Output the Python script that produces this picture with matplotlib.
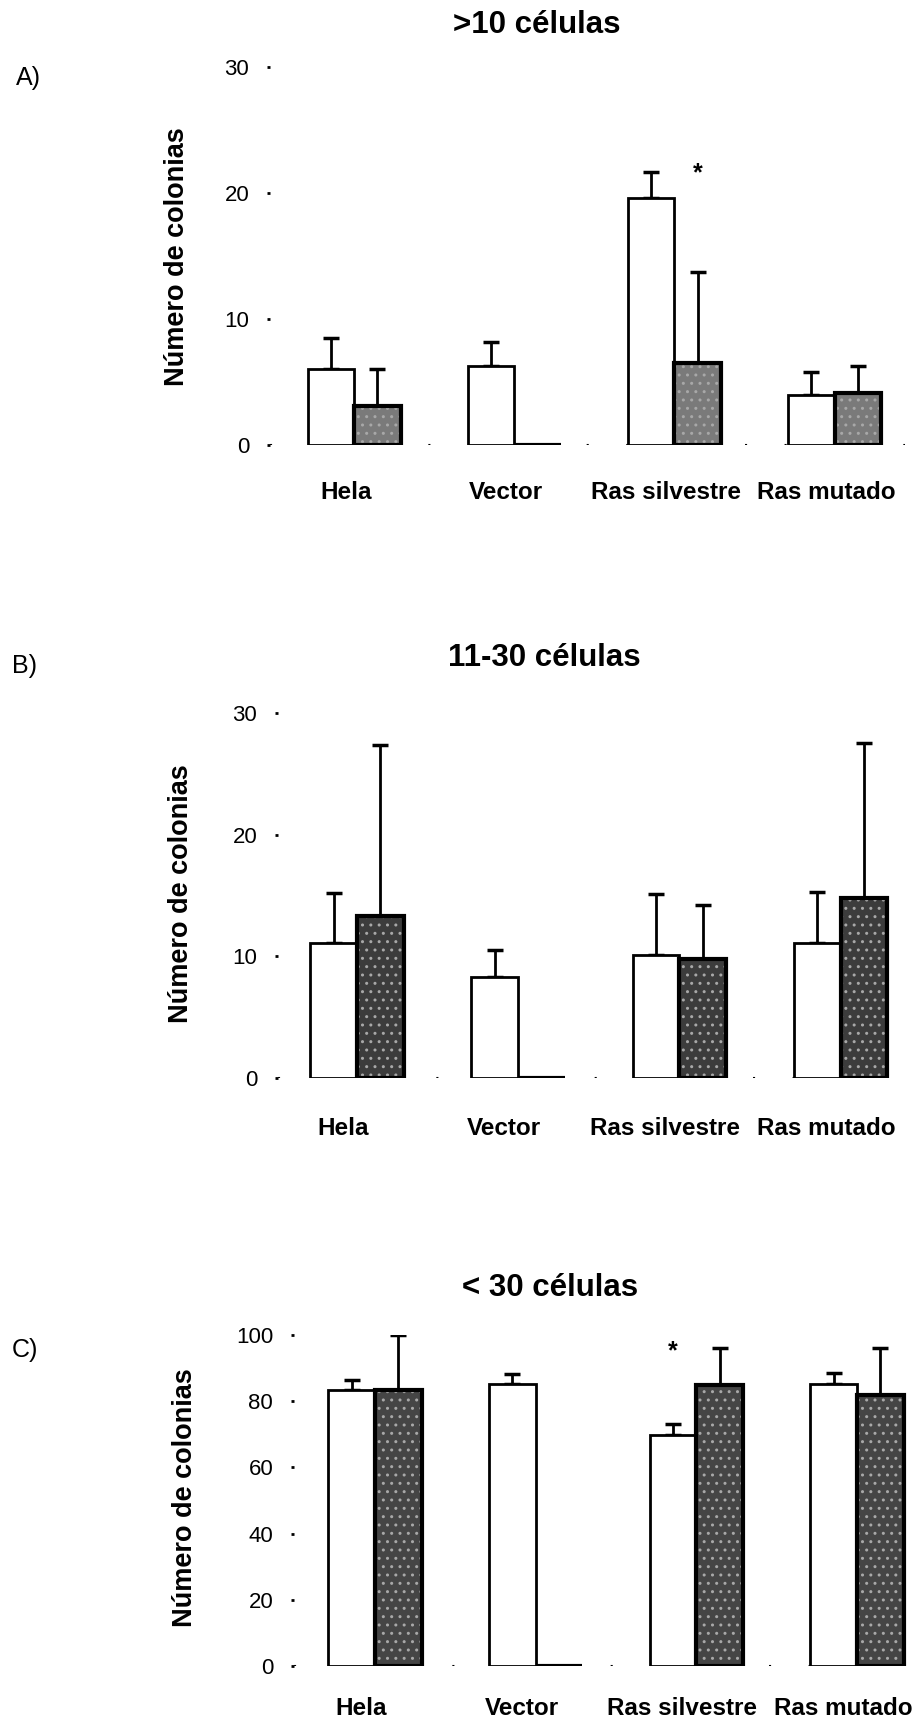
import numpy as np
import matplotlib
matplotlib.use("Agg")
import matplotlib.pyplot as plt
from matplotlib.transforms import ScaledTranslation

plt.rcParams['font.family'] = ['Liberation Sans', 'DejaVu Sans']

# categorias (eje x)
grupos = ["Hela", "Vector", "Ras silvestre", "Ras mutado"]

# A) >10 celulas
a_blanco = [6.0, 6.3, 19.6, 4.0]
a_blanco_err = [2.5, 1.9, 2.1, 1.8]
a_gris = [3.1, 0.0, 6.5, 4.1]
a_gris_err = [2.9, 0.0, 7.2, 2.2]

# B) 11-30 celulas
b_blanco = [11.1, 8.3, 10.1, 11.1]
b_blanco_err = [4.1, 2.2, 5.0, 4.2]
b_gris = [13.3, 0.0, 9.8, 14.8]
b_gris_err = [14.1, 0.0, 4.4, 12.7]

# C) < 30 celulas
c_blanco = [83.4, 85.3, 69.8, 85.3]
c_blanco_err = [3.1, 3.0, 3.2, 3.3]
c_gris = [83.4, 0.0, 85.0, 81.8]
c_gris_err = [16.6, 0.0, 11.0, 14.2]

W, H = 918, 1719
fig = plt.figure(figsize=(W / 100, H / 100), dpi=100)


def px_axes(left, right, y_bottom, y_top):
    # convierte pixeles a fracciones de figura
    return [left / W, 1 - y_bottom / H, (right - left) / W, (y_bottom - y_top) / H]


def panel(rect, xlim, blanco, blanco_err, gris, gris_err, ymax, yticks, gris_color,
          titulo, titulo_xy, letra, letra_xy, ylab_xy, label_pad, label_dx, estrellas):
    ax = fig.add_axes(rect)
    x = np.arange(len(grupos))
    w = 0.29
    ax.bar(x - w / 2, blanco, w, color='white', edgecolor='black', linewidth=2, zorder=2)
    # relleno punteado de las barras oscuras
    ax.bar(x + w / 2, gris, w, color=gris_color, edgecolor='#a8a8a8', hatch='..',
           linewidth=0, zorder=2)
    ax.bar(x + w / 2, gris, w, fill=False, edgecolor='black', linewidth=3, zorder=3)

    for xs, v, e in [(x - w / 2, blanco, blanco_err), (x + w / 2, gris, gris_err)]:
        v = np.array(v)
        e = np.array(e)
        m = v > 0
        ax.errorbar(xs[m], v[m], yerr=[np.zeros(m.sum()), e[m]], fmt='none',
                    ecolor='black', elinewidth=2, capsize=6, capthick=2.5, zorder=1)

    for xe, ye in estrellas:
        ax.text(xe, ye, '*', ha='center', va='center', fontsize=18, fontweight='bold')

    # linea base punteada (restos del eje)
    ax.axhline(0, color='black', lw=1.5, ls=(0, (1, 18)), zorder=0)

    ax.set_xlim(*xlim)
    ax.set_ylim(0, ymax)
    ax.set_yticks(yticks)
    ax.set_xticks(x)
    ax.set_xticklabels(grupos, fontsize=17.5, fontweight='bold')
    ax.tick_params(axis='x', length=0, pad=label_pad)
    ax.tick_params(axis='y', length=2, width=2, pad=13, labelsize=16)
    desplaza = ScaledTranslation(label_dx / 100, 0, fig.dpi_scale_trans)
    for lab in ax.get_xticklabels():
        lab.set_transform(lab.get_transform() + desplaza)
    for s in ax.spines.values():
        s.set_visible(False)
    ax.set_facecolor('none')

    fig.text(titulo_xy[0] / W, 1 - titulo_xy[1] / H, titulo, ha='center', va='center',
             fontsize=22.5, fontweight='bold')
    fig.text(letra_xy[0] / W, 1 - letra_xy[1] / H, letra, ha='center', va='center',
             fontsize=18)
    fig.text(ylab_xy[0] / W, 1 - ylab_xy[1] / H, "Número de colonias", rotation=90,
             ha='center', va='center', fontsize=19.5, fontweight='bold')
    return ax


panel(px_axes(270, 905, 445, 67), (-0.525, 3.44), a_blanco, a_blanco_err, a_gris, a_gris_err,
      30, [0, 10, 20, 30], '#7a7a7a', ">10 células", (537, 25), "A)", (28, 78),
      (177, 257), 26, -8, [(2 + 0.145, 21.6)])

panel(px_axes(278, 910, 1078, 713), (-0.49, 3.43), b_blanco, b_blanco_err, b_gris, b_gris_err,
      30, [0, 10, 20, 30], '#3c3c3c', "11-30 células", (544, 658), "B)", (24, 666),
      (181, 894), 28, -14, [])

panel(px_axes(294, 918, 1666, 1335), (-0.504, 3.38), c_blanco, c_blanco_err, c_gris, c_gris_err,
      100, [0, 20, 40, 60, 80, 100], '#454545', "< 30 células", (550, 1288), "C)", (25, 1350),
      (185, 1498), 22, -14, [(2 - 0.145, 95)])

fig.savefig("out.png", dpi=100)
